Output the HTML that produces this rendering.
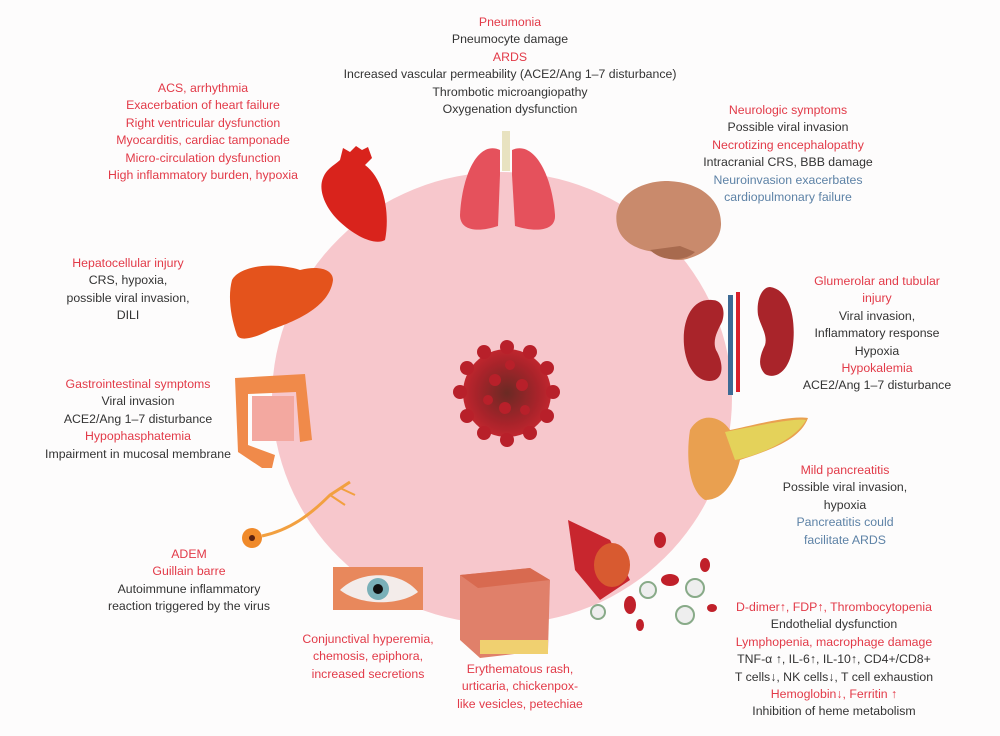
<!DOCTYPE html>
<html><head><meta charset="utf-8"><style>
html,body{margin:0;padding:0;background:#fff;}
#c{position:relative;width:1000px;height:736px;overflow:hidden;background:#fdfcfc;font-family:"Liberation Sans",Arial,sans-serif;font-size:12.3px;}
.b{position:absolute;text-align:center;line-height:17.4px;white-space:nowrap;transform:translateX(-50%);color:#333;}
.r{color:#e23a48;}
.u{color:#5d82a6;}
svg{position:absolute;left:0;top:0;}
</style></head><body><div id="c">
<svg width="1000" height="736" viewBox="0 0 1000 736">
<defs>
<radialGradient id="vg" cx="50%" cy="50%" r="50%"><stop offset="0" stop-color="#6a2a24"/><stop offset="0.7" stop-color="#a8232a"/><stop offset="1" stop-color="#c0262e"/></radialGradient>
</defs>
<ellipse cx="502" cy="398" rx="230" ry="226" fill="#f7c7cc"/>
<circle cx="507" cy="393" r="44" fill="url(#vg)"/>
<g fill="#b8202a">
<circle cx="507" cy="347" r="7"/><circle cx="530" cy="352" r="7"/><circle cx="547" cy="368" r="7"/><circle cx="553" cy="392" r="7"/><circle cx="547" cy="416" r="7"/><circle cx="530" cy="433" r="7"/><circle cx="507" cy="440" r="7"/><circle cx="484" cy="433" r="7"/><circle cx="467" cy="416" r="7"/><circle cx="460" cy="392" r="7"/><circle cx="467" cy="368" r="7"/><circle cx="484" cy="352" r="7"/>
<circle cx="495" cy="380" r="6"/><circle cx="522" cy="385" r="6"/><circle cx="505" cy="408" r="6"/><circle cx="488" cy="400" r="5"/><circle cx="525" cy="410" r="5"/><circle cx="510" cy="365" r="5"/>
</g>
<rect x="502" y="131" width="8" height="40" fill="#e8e2c0"/>
<path d="M500,150 C478,140 462,175 460,215 C460,232 480,232 498,226 L500,175 Z" fill="#e5515c"/>
<path d="M512,150 C534,140 552,175 555,215 C556,232 534,232 515,226 L512,175 Z" fill="#e5515c"/>
<!-- heart -->
<path d="M340,160 L343,148 L350,152 L356,146 L362,150 L368,147 L372,158 L365,165 C385,180 390,215 385,240 C375,246 355,236 340,222 C325,208 318,190 323,178 C327,168 335,165 340,160 Z" fill="#d9231c"/>
<!-- brain -->
<path d="M617,225 C612,200 635,182 665,181 C700,181 722,200 721,225 C720,245 700,255 690,258 C680,262 665,260 655,252 C635,250 620,240 617,225 Z" fill="#c98a6c"/>
<path d="M650,250 C662,262 685,262 695,252 L680,246 Z" fill="#a86a4e"/>
<!-- liver -->
<path d="M232,280 C240,265 275,262 300,270 C320,265 333,270 333,280 C330,305 300,320 270,330 C255,338 240,342 237,335 C230,315 228,295 232,280 Z" fill="#e4531c"/>
<!-- kidney -->
<path d="M712,300 C692,298 682,320 684,345 C686,370 700,385 715,380 C725,375 722,360 716,350 C712,340 718,330 722,322 C726,310 722,300 712,300 Z" fill="#a9242a"/>
<path d="M770,287 C790,290 796,318 793,345 C790,372 775,380 765,374 C757,366 760,355 765,345 C768,335 760,325 758,315 C756,300 762,287 770,287 Z" fill="#a9242a"/>
<rect x="728" y="295" width="5" height="100" fill="#3d6a94"/><rect x="736" y="292" width="4" height="100" fill="#d9202a"/>
<!-- colon -->
<path d="M235,378 L305,374 L312,440 L300,442 L296,392 L248,394 L248,445 L275,455 L272,468 L262,468 L238,452 Z" fill="#f08a4a"/>
<rect x="252" y="396" width="42" height="45" fill="#f3a8a0"/>
<!-- pancreas -->
<path d="M690,430 C700,412 720,415 730,430 C755,425 790,415 808,418 C800,440 770,450 740,460 C735,480 725,500 705,500 C688,490 686,455 690,430 Z" fill="#e9a050"/>
<path d="M725,432 C760,425 795,418 806,420 C795,440 760,455 735,460 Z" fill="#e4d25a"/>
<!-- neuron -->
<circle cx="252" cy="538" r="10" fill="#f08a2a"/><circle cx="252" cy="538" r="3" fill="#5a2010"/>
<path d="M262,536 C290,530 310,515 330,495 L350,482" stroke="#f2a040" stroke-width="3" fill="none"/>
<path d="M330,495 L345,505 M340,488 L355,495" stroke="#f2a040" stroke-width="2" fill="none"/>
<!-- eye -->
<rect x="333" y="567" width="90" height="43" fill="#e8885c"/>
<path d="M340,590 C360,570 400,570 418,592 C400,606 360,606 340,590 Z" fill="#f3ecea"/>
<circle cx="378" cy="589" r="11" fill="#7ab0b8"/><circle cx="378" cy="589" r="5" fill="#111"/>
<!-- skin -->
<path d="M460,575 L530,568 L550,580 L548,650 L480,658 L460,640 Z" fill="#e0806a"/>
<path d="M460,575 L530,568 L550,580 L478,588 Z" fill="#d86a50"/>
<rect x="480" y="640" width="68" height="14" fill="#f0d070"/>
<!-- blood -->
<path d="M568,520 L610,540 L630,580 L600,600 L575,570 Z" fill="#c8262e"/>
<ellipse cx="612" cy="565" rx="18" ry="22" fill="#d85a30"/>
<g fill="#c0202a"><ellipse cx="660" cy="540" rx="6" ry="8"/><ellipse cx="670" cy="580" rx="9" ry="6"/><ellipse cx="630" cy="605" rx="6" ry="9"/><ellipse cx="705" cy="565" rx="5" ry="7"/><ellipse cx="712" cy="608" rx="5" ry="4"/><ellipse cx="640" cy="625" rx="4" ry="6"/></g>
<g fill="#eee" stroke="#8a8" stroke-width="2"><circle cx="695" cy="588" r="9"/><circle cx="685" cy="615" r="9"/><circle cx="648" cy="590" r="8"/><circle cx="598" cy="612" r="7"/></g>
</svg>
<div class="b" style="left:510px;top:14px"><span class="r">Pneumonia</span><br>Pneumocyte damage<br><span class="r">ARDS</span><br>Increased vascular permeability (ACE2/Ang 1–7 disturbance)<br>Thrombotic microangiopathy<br>Oxygenation dysfunction</div>
<div class="b r" style="left:203px;top:80px">ACS, arrhythmia<br>Exacerbation of heart failure<br>Right ventricular dysfunction<br>Myocarditis, cardiac tamponade<br>Micro-circulation dysfunction<br>High inflammatory burden, hypoxia</div>
<div class="b" style="left:788px;top:102px"><span class="r">Neurologic symptoms</span><br>Possible viral invasion<br><span class="r">Necrotizing encephalopathy</span><br>Intracranial CRS, BBB damage<br><span class="u">Neuroinvasion exacerbates<br>cardiopulmonary failure</span></div>
<div class="b" style="left:128px;top:255px"><span class="r">Hepatocellular injury</span><br>CRS, hypoxia,<br>possible viral invasion,<br>DILI</div>
<div class="b" style="left:877px;top:273px"><span class="r">Glumerolar and tubular<br>injury</span><br>Viral invasion,<br>Inflammatory response<br>Hypoxia<br><span class="r">Hypokalemia</span><br>ACE2/Ang 1–7 disturbance</div>
<div class="b" style="left:138px;top:376px"><span class="r">Gastrointestinal symptoms</span><br>Viral invasion<br>ACE2/Ang 1–7 disturbance<br><span class="r">Hypophasphatemia</span><br>Impairment in mucosal membrane</div>
<div class="b" style="left:845px;top:462px"><span class="r">Mild pancreatitis</span><br>Possible viral invasion,<br>hypoxia<br><span class="u">Pancreatitis could<br>facilitate ARDS</span></div>
<div class="b" style="left:189px;top:546px"><span class="r">ADEM<br>Guillain barre</span><br>Autoimmune inflammatory<br>reaction triggered by the virus</div>
<div class="b r" style="left:368px;top:631px">Conjunctival hyperemia,<br>chemosis, epiphora,<br>increased secretions</div>
<div class="b r" style="left:520px;top:661px">Erythematous rash,<br>urticaria, chickenpox-<br>like vesicles, petechiae</div>
<div class="b" style="left:834px;top:599px"><span class="r">D-dimer↑, FDP↑, Thrombocytopenia</span><br>Endothelial dysfunction<br><span class="r">Lymphopenia, macrophage damage</span><br>TNF-α ↑, IL-6↑, IL-10↑, CD4+/CD8+<br>T cells↓, NK cells↓, T cell exhaustion<br><span class="r">Hemoglobin↓, Ferritin ↑</span><br>Inhibition of heme metabolism</div>
</div></body></html>
